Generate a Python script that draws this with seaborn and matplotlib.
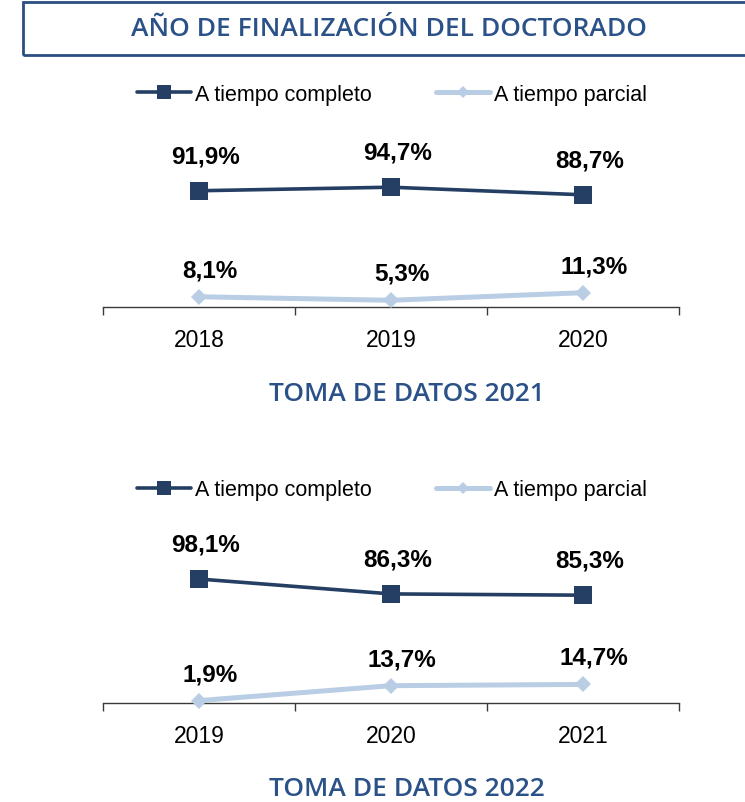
import matplotlib
matplotlib.use("Agg")
import matplotlib.pyplot as plt
import seaborn as sns
import pandas as pd
from matplotlib.patches import Rectangle
from matplotlib.lines import Line2D

sns.set_theme(style="white")
plt.rcParams['font.family'] = ['Liberation Sans', 'DejaVu Sans']
plt.rcParams['text.color'] = 'black'
plt.rcParams['xtick.color'] = 'black'

# ---- data ----
title = "AÑO DE FINALIZACIÓN DEL DOCTORADO"
series_names = ["A tiempo completo", "A tiempo parcial"]

years_2021 = ["2018", "2019", "2020"]
completo_2021 = [91.9, 94.7, 88.7]
parcial_2021 = [8.1, 5.3, 11.3]
subtitle_2021 = "TOMA DE DATOS 2021"

years_2022 = ["2019", "2020", "2021"]
completo_2022 = [98.1, 86.3, 85.3]
parcial_2022 = [1.9, 13.7, 14.7]
subtitle_2022 = "TOMA DE DATOS 2022"

DARK = "#243F63"
LIGHT = "#B9CDE5"
TITLE_C = "#2B5189"

W, H = 745, 803
fig = plt.figure(figsize=(W / 100, H / 100), dpi=100)

def px_axes(left, top_zero, right, height):
    return fig.add_axes([left / W, (H - top_zero) / H, (right - left) / W, height / H])

styles = {
    series_names[0]: dict(color=DARK, marker="s", markersize=12.5, lw=2.6, off=(7, 35)),
    series_names[1]: dict(color=LIGHT, marker="D", markersize=8, lw=3.6, off=(11, 27)),
}

def fmt(v):
    return f"{v:.1f}%".replace(".", ",")

def draw_panel(ax, years, comp, parc):
    df = pd.DataFrame({
        "year": years * 2,
        "value": comp + parc,
        "serie": [series_names[0]] * len(years) + [series_names[1]] * len(years),
    })
    for name in series_names:
        st = styles[name]
        sub = df[df["serie"] == name]
        sns.lineplot(data=sub, x="year", y="value", ax=ax, color=st["color"],
                     marker=st["marker"], markersize=st["markersize"],
                     markeredgewidth=0, linewidth=st["lw"], legend=False,
                     clip_on=False, zorder=3)
        for i, (yr, v) in enumerate(zip(sub["year"], sub["value"])):
            ax.annotate(fmt(v), xy=(i, v), xytext=st["off"], textcoords="offset pixels",
                        ha="center", va="center", fontsize=17.5, fontweight="bold",
                        color="black", annotation_clip=False)
    ax.set_xlim(-0.5, len(years) - 0.5)
    ax.set_ylim(0, 100)
    ax.set_xlabel("")
    ax.set_ylabel("")
    ax.set_yticks([])
    for s in ["top", "right", "left"]:
        ax.spines[s].set_visible(False)
    ax.spines["bottom"].set_color("#3A3A3A")
    ax.spines["bottom"].set_linewidth(1.0)
    ax.set_xticks([i - 0.5 for i in range(len(years) + 1)])
    ax.set_xticklabels([])
    ax.set_xticks(list(range(len(years))), minor=True)
    ax.set_xticklabels(years, minor=True, fontsize=16.5, color="black")
    ax.tick_params(axis="x", which="major", direction="out", length=6, width=1,
                   color="#3A3A3A", bottom=True)
    ax.tick_params(axis="x", which="minor", length=0, pad=15)
    ax.patch.set_alpha(0)

ax1 = px_axes(103, 308, 679, 126.5)
draw_panel(ax1, years_2021, completo_2021, parcial_2021)
ax2 = px_axes(103, 704, 679, 126.4)
draw_panel(ax2, years_2022, completo_2022, parcial_2022)

handles = [Line2D([], [], color=styles[n]["color"], marker=styles[n]["marker"],
                  markersize=styles[n]["markersize"] * 0.8, markeredgewidth=0,
                  lw=styles[n]["lw"]) for n in series_names]
for ycen in (95, 491):
    leg = fig.legend(handles, series_names, loc="center",
                     bbox_to_anchor=(392 / W, 1 - ycen / H),
                     ncol=2, frameon=False, fontsize=15.5, handlelength=2.5,
                     handletextpad=0.2, columnspacing=3.0)
    for t in leg.get_texts():
        t.set_color("black")

# title box
fig.patches.append(Rectangle((23 / W, 1 - 56 / H), (W + 10) / W, 53 / H,
                             transform=fig.transFigure, fill=False,
                             edgecolor="#2B4E82", lw=2))
fig.text(389 / W, 1 - 30 / H, title, ha="center", va="center", fontsize=19,
         color=TITLE_C, family=["Open Sans", "DejaVu Sans"], fontweight="semibold")
fig.text(407 / W, 1 - 395 / H, subtitle_2021, ha="center", va="center", fontsize=19,
         color=TITLE_C, family=["Open Sans", "DejaVu Sans"], fontweight="semibold")
fig.text(407 / W, 1 - 790 / H, subtitle_2022, ha="center", va="center", fontsize=19,
         color=TITLE_C, family=["Open Sans", "DejaVu Sans"], fontweight="semibold")

fig.savefig("out.png", dpi=100)
